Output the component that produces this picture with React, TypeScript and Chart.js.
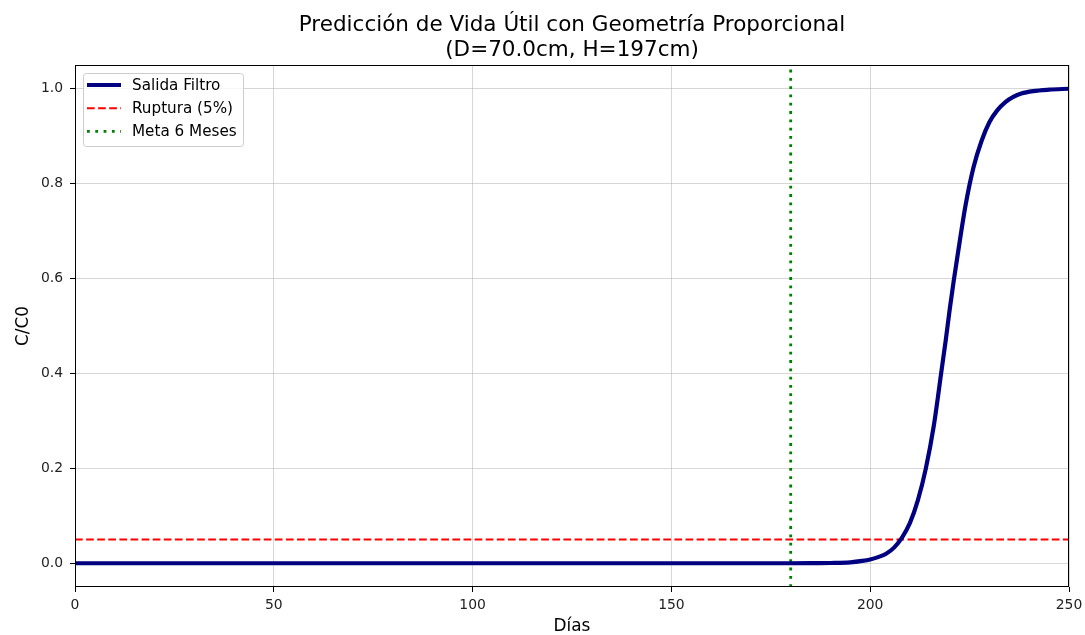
import { useEffect, useRef } from "react";
import { Chart, registerables } from "chart.js";

Chart.register(...registerables);

// ---- data ----
const days = [0, 50, 100, 150, 170, 180, 185, 190, 195, 198, 200, 202, 204, 206, 208, 210, 212, 214, 216, 218, 219, 220, 221, 222, 224, 226, 228, 230, 232, 234, 236, 238, 241, 245, 250];
const outletRatio = [0, 0, 0, 0, 0, 0.0001, 0.0002, 0.0006, 0.002, 0.005, 0.008, 0.013, 0.02, 0.033, 0.054, 0.085, 0.133, 0.2, 0.29, 0.41, 0.47, 0.535, 0.595, 0.65, 0.755, 0.835, 0.89, 0.93, 0.955, 0.972, 0.983, 0.99, 0.995, 0.998, 1.0];
const breakthroughLevel = 0.05;
const targetDay = 180;
const xRange = [0, 250];
const yRange = [-0.05, 1.05];
const xTicks = [0, 50, 100, 150, 200, 250];
const yTicks = [0, 0.2, 0.4, 0.6, 0.8, 1.0];
const seriesLabels = ["Salida Filtro", "Ruptura (5%)", "Meta 6 Meses"];
const titleLines = ["Predicción de Vida Útil con Geometría Proporcional", "(D=70.0cm, H=197cm)"];
const xTitle = "Días";
const yTitle = "C/C0";

const FONT = '"DejaVu Sans", "Liberation Sans", sans-serif';

const titlePlugin = {
  id: "mplTitle",
  afterDraw(chart: any) {
    const { ctx, chartArea } = chart;
    const cx = (chartArea.left + chartArea.right) / 2;
    ctx.save();
    ctx.fillStyle = "#000";
    ctx.font = `21.5px ${FONT}`;
    ctx.textAlign = "center";
    ctx.textBaseline = "alphabetic";
    titleLines.forEach((line, i) => {
      ctx.fillText(line, cx, 31 + i * 25);
    });
    ctx.restore();
  },
};

const framePlugin = {
  id: "mplFrame",
  afterDatasetsDraw(chart: any) {
    const { ctx, chartArea } = chart;
    ctx.save();
    ctx.strokeStyle = "#000";
    ctx.lineWidth = 1;
    ctx.strokeRect(
      Math.round(chartArea.left) + 0.5,
      Math.round(chartArea.top) + 0.5,
      Math.round(chartArea.right - chartArea.left) - 1,
      Math.round(chartArea.bottom - chartArea.top) - 1
    );
    ctx.restore();
  },
};

const legendPlugin = {
  id: "mplLegend",
  afterDraw(chart: any) {
    const { ctx, chartArea } = chart;
    const x0 = chartArea.left + 8;
    const y0 = chartArea.top + 8;
    const w = 160;
    const h = 73;
    ctx.save();
    ctx.beginPath();
    ctx.roundRect(x0 + 0.5, y0 + 0.5, w, h, 3);
    ctx.fillStyle = "rgba(255,255,255,0.8)";
    ctx.fill();
    ctx.strokeStyle = "#cccccc";
    ctx.lineWidth = 1;
    ctx.stroke();
    chart.data.datasets.forEach((ds: any, i: number) => {
      const cy = y0 + 12 + i * 23.2;
      ctx.beginPath();
      ctx.setLineDash(ds.borderDash || []);
      ctx.lineCap = "butt";
      ctx.strokeStyle = ds.borderColor;
      ctx.lineWidth = ds.borderWidth;
      ctx.moveTo(x0 + 4, cy);
      ctx.lineTo(x0 + 38, cy);
      ctx.stroke();
      ctx.setLineDash([]);
      ctx.fillStyle = "#000";
      ctx.font = `15.2px ${FONT}`;
      ctx.textBaseline = "middle";
      ctx.textAlign = "left";
      ctx.fillText(ds.label, x0 + 49, cy + 1);
    });
    ctx.restore();
  },
};

export default function App() {
  const canvasRef = useRef<HTMLCanvasElement | null>(null);

  useEffect(() => {
    document.body.style.margin = "0";
    const canvas = canvasRef.current;
    if (!canvas) return;

    const chart = new Chart(canvas, {
      type: "line",
      data: {
        datasets: [
          {
            label: seriesLabels[0],
            data: days.map((d, i) => ({ x: d, y: outletRatio[i] })),
            borderColor: "#000080",
            borderWidth: 4.2,
            pointRadius: 0,
            cubicInterpolationMode: "monotone",
            fill: false,
          },
          {
            label: seriesLabels[1],
            data: [
              { x: xRange[0], y: breakthroughLevel },
              { x: xRange[1], y: breakthroughLevel },
            ],
            borderColor: "#ff0000",
            borderWidth: 2.1,
            borderDash: [7.7, 3.4],
            pointRadius: 0,
            fill: false,
          },
          {
            label: seriesLabels[2],
            data: [
              { x: targetDay, y: yRange[0] },
              { x: targetDay, y: yRange[1] },
            ],
            borderColor: "#008000",
            borderWidth: 2.8,
            borderDash: [2.8, 5.5],
            pointRadius: 0,
            fill: false,
          },
        ],
      },
      options: {
        animation: false,
        responsive: true,
        maintainAspectRatio: false,
        events: [],
        layout: { padding: { left: 0, right: 16, top: 65, bottom: 0 } },
        plugins: {
          legend: { display: false },
          tooltip: { enabled: false },
          title: { display: false },
        },
        scales: {
          x: {
            type: "linear",
            min: xRange[0],
            max: xRange[1],
            afterBuildTicks: (scale: any) => {
              scale.ticks = xTicks.map((v) => ({ value: v }));
            },
            afterFit: (scale: any) => {
              scale.height = 48;
              scale.paddingLeft = 0;
              scale.paddingRight = 0;
            },
            ticks: {
              color: "#222",
              font: { family: FONT, size: 13.9 },
              padding: 5,
              maxRotation: 0,
              callback: (v: any) => String(v),
            },
            grid: {
              color: "rgba(176,176,176,0.5)",
              tickColor: "#000",
              tickLength: 5,
              drawTicks: true,
            },
            border: { display: false },
            title: {
              display: true,
              text: xTitle,
              color: "#000",
              font: { family: FONT, size: 16.9, lineHeight: 1 },
              padding: { top: 0, bottom: 0 },
            },
          },
          y: {
            type: "linear",
            min: yRange[0],
            max: yRange[1],
            afterBuildTicks: (scale: any) => {
              scale.ticks = yTicks.map((v) => ({ value: v }));
            },
            afterFit: (scale: any) => {
              scale.width = 75;
              scale.paddingTop = 0;
              scale.paddingBottom = 0;
            },
            ticks: {
              color: "#222",
              font: { family: FONT, size: 13.9 },
              padding: 7,
              callback: (v: any) => Number(v).toFixed(1),
            },
            grid: {
              color: "rgba(176,176,176,0.5)",
              tickColor: "#000",
              tickLength: 5,
              drawTicks: true,
            },
            border: { display: false },
            title: {
              display: true,
              text: yTitle,
              color: "#000",
              font: { family: FONT, size: 16.9, lineHeight: 1.2 },
              padding: { top: 13, bottom: 0 },
            },
          },
        },
      },
      plugins: [framePlugin, legendPlugin, titlePlugin],
    } as any);

    return () => chart.destroy();
  }, []);

  return (
    <div style={{ width: 1085, height: 635, position: "relative" }}>
      <canvas ref={canvasRef} />
    </div>
  );
}
